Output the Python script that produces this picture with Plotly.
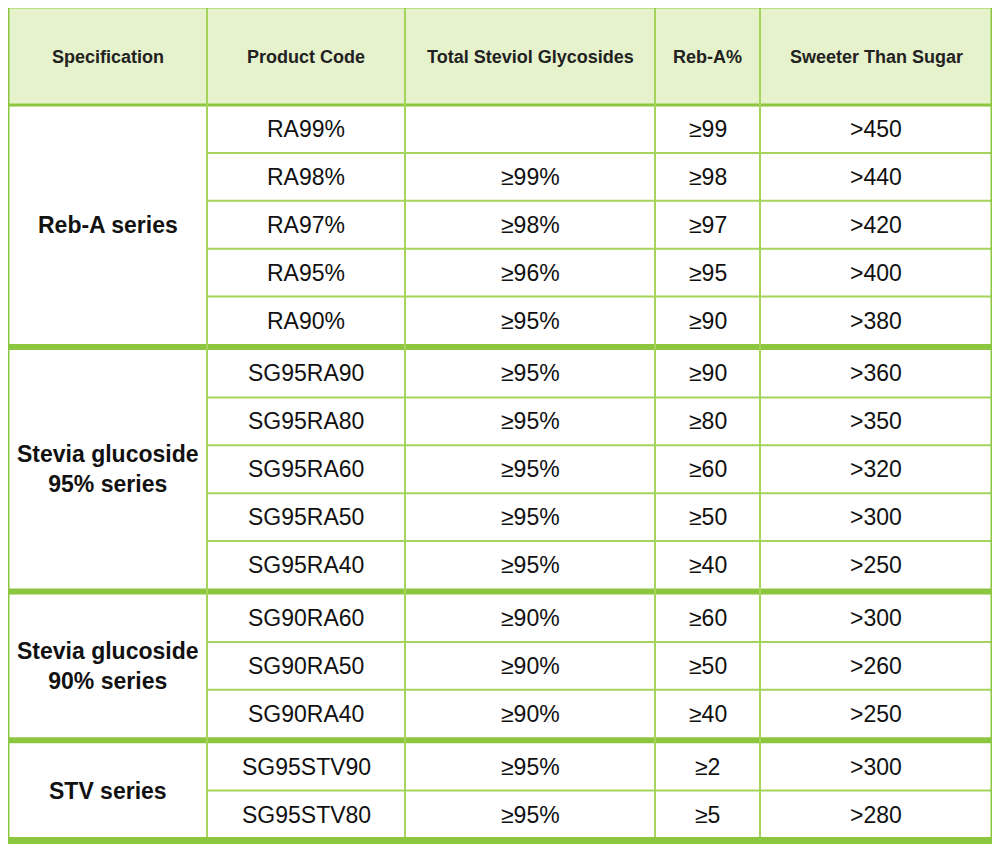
import plotly.graph_objects as go

headers = ["Specification", "Product Code", "Total Steviol Glycosides", "Reb-A%", "Sweeter Than Sugar"]
groups = ["Reb-A series", "Stevia glucoside<br>95% series", "Stevia glucoside<br>90% series", "STV series"]
group_sizes = [5, 5, 3, 2]
codes = ["RA99%", "RA98%", "RA97%", "RA95%", "RA90%",
         "SG95RA90", "SG95RA80", "SG95RA60", "SG95RA50", "SG95RA40",
         "SG90RA60", "SG90RA50", "SG90RA40",
         "SG95STV90", "SG95STV80"]
total_sg = ["", "≥99%", "≥98%", "≥96%", "≥95%",
            "≥95%", "≥95%", "≥95%", "≥95%", "≥95%",
            "≥90%", "≥90%", "≥90%",
            "≥95%", "≥95%"]
reba = ["≥99", "≥98", "≥97", "≥95", "≥90",
        "≥90", "≥80", "≥60", "≥50", "≥40",
        "≥60", "≥50", "≥40",
        "≥2", "≥5"]
sweet = [">450", ">440", ">420", ">400", ">380",
         ">360", ">350", ">320", ">300", ">250",
         ">300", ">260", ">250",
         ">300", ">280"]

# layout geometry (pixels)
col_x = [8, 207, 405, 655, 760, 992]
header_top, header_bot = 8, 105
row_h = 47.9
group_gap = 5
line_col = "#a6d45a"
border_col = "#8cc63f"
page_off = 8  # body margin of the html page

fig = go.Figure()
shapes, annots = [], []

shapes.append(dict(type="rect", x0=col_x[0], x1=col_x[-1], y0=header_top, y1=header_bot,
                   fillcolor="#e6f2cc", line=dict(width=0), layer="below"))
for i, h in enumerate(headers):
    annots.append(dict(x=(col_x[i] + col_x[i + 1]) / 2, y=(header_top + header_bot) / 2, text="<b>%s</b>" % h,
                       showarrow=False, font=dict(family="Arial, Liberation Sans", size=18, color="#222")))

y = header_bot
r = 0
for g, n in zip(groups, group_sizes):
    g_top = y
    for k in range(n):
        y0, y1 = y, y + row_h
        cy = (y0 + y1) / 2
        vals = [codes[r], total_sg[r], reba[r], sweet[r]]
        for c, v in enumerate(vals):
            annots.append(dict(x=(col_x[c + 1] + col_x[c + 2]) / 2, y=cy, text=v, showarrow=False,
                               font=dict(family="Arial, Liberation Sans", size=23, color="#111")))
        if k < n - 1:
            shapes.append(dict(type="line", x0=col_x[1], x1=col_x[-1], y0=y1, y1=y1,
                               line=dict(color=line_col, width=2)))
        y = y1
        r += 1
    annots.append(dict(x=(col_x[0] + col_x[1]) / 2, y=(g_top + y) / 2, text="<b>%s</b>" % g, showarrow=False,
                       font=dict(family="Arial, Liberation Sans", size=23, color="#111")))
    if r < len(codes):
        shapes.append(dict(type="line", x0=col_x[0], x1=col_x[-1], y0=y + group_gap / 2, y1=y + group_gap / 2,
                           line=dict(color=border_col, width=6)))
        y += group_gap
bottom = y

shapes.append(dict(type="line", x0=col_x[0], x1=col_x[-1], y0=header_bot, y1=header_bot,
                   line=dict(color=border_col, width=3)))
for xc in col_x[1:-1]:
    shapes.append(dict(type="line", x0=xc, x1=xc, y0=header_top, y1=bottom,
                       line=dict(color=line_col, width=2)))
shapes.append(dict(type="rect", x0=col_x[0] - 2, x1=col_x[-1] + 2, y0=header_top - 3, y1=bottom + 2,
                   line=dict(color=border_col, width=7)))

fig.update_layout(
    width=1000, height=851, margin=dict(l=0, r=0, t=0, b=0),
    paper_bgcolor="white", plot_bgcolor="white",
    xaxis=dict(range=[page_off, 1000 + page_off], visible=False, fixedrange=True),
    yaxis=dict(range=[851 + page_off, page_off], visible=False, fixedrange=True),
    shapes=shapes, annotations=annots, showlegend=False,
)
fig.write_html("out.html")
